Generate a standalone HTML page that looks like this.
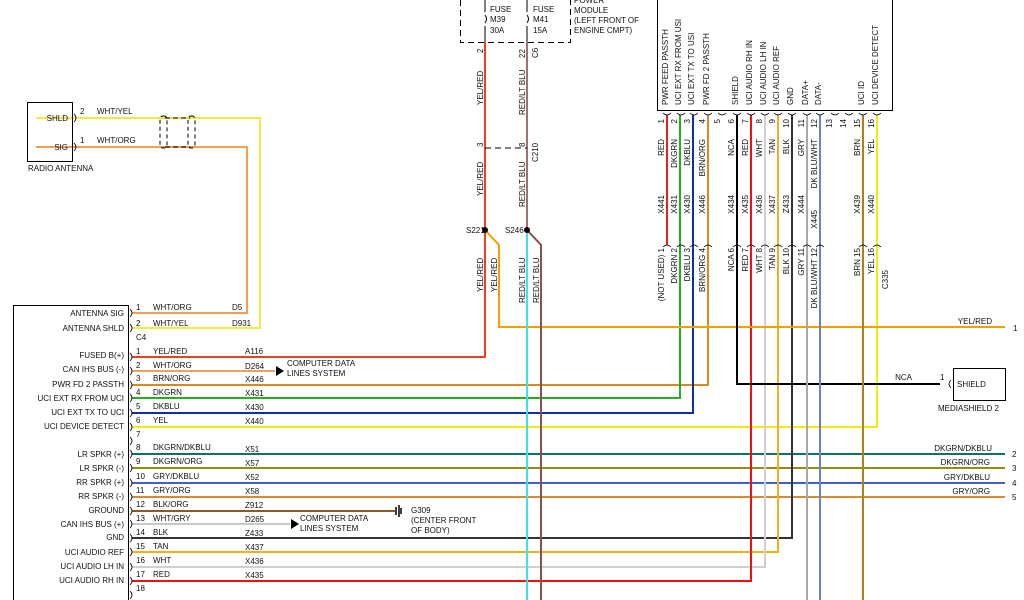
<!DOCTYPE html>
<html><head><meta charset="utf-8"><style>
html,body{margin:0;padding:0;background:#fff;}
svg{display:block;font-family:"Liberation Sans",Arial,sans-serif;font-size:8px;fill:#000;}
text{fill:#111;}
.r{text-anchor:end;}
</style></head><body>
<svg width="1024" height="600" viewBox="0 0 1024 600" xmlns="http://www.w3.org/2000/svg">
<g fill="none" stroke-width="2">
<!-- antenna wires -->
<polyline points="36,118 260,118 260,328 132,328" stroke="#f2ea40"/>
<polyline points="36,147 247,147 247,313 132,313" stroke="#f0a050"/>
<!-- C4 rows -->
<polyline points="132,357 485,357 485,42" stroke="#ee4020"/>
<line x1="132" y1="371" x2="275" y2="371" stroke="#f0a060"/>
<polyline points="132,385 708,385 708,115" stroke="#d88a20"/>
<polyline points="132,398 680,398 680,115" stroke="#20b020"/>
<polyline points="132,413 693,413 693,115" stroke="#1030a0"/>
<polyline points="132,427 877,427 877,115" stroke="#f5ea10"/>
<line x1="132" y1="454" x2="1005" y2="454" stroke="#107060"/>
<line x1="132" y1="468" x2="1005" y2="468" stroke="#909010"/>
<line x1="132" y1="483" x2="1005" y2="483" stroke="#4060c8"/>
<line x1="132" y1="497" x2="1005" y2="497" stroke="#d88a30"/>
<line x1="132" y1="511" x2="395" y2="511" stroke="#8a5a28"/>
<line x1="132" y1="524" x2="290" y2="524" stroke="#c8c8c8"/>
<polyline points="132,538 792,538 792,115" stroke="#333"/>
<polyline points="132,552 778,552 778,115" stroke="#f0b020"/>
<polyline points="132,567 765,567 765,115" stroke="#d0d0d0"/>
<polyline points="132,581 751,581 751,115" stroke="#f01010"/>
<!-- YEL/RED branch -->
<polyline points="485,230 499,245 499,327 1005,327" stroke="#f0a000"/>
<!-- RED/LT BLU -->
<line x1="527" y1="42" x2="527" y2="230" stroke="#a07070"/>
<line x1="527" y1="230" x2="527" y2="600" stroke="#40e0f0"/>
<polyline points="527,230 541,245 541,600" stroke="#8a5050"/>
<!-- module wires -->
<line x1="667" y1="115" x2="667" y2="245" stroke="#e82020"/>
<polyline points="737,115 737,384 940,384" stroke="#000"/>
<line x1="807" y1="115" x2="807" y2="600" stroke="#a8a8a8"/>
<line x1="820" y1="115" x2="820" y2="600" stroke="#7080d0"/>
<line x1="863" y1="115" x2="863" y2="600" stroke="#b08020"/>
</g>
<!-- boxes -->
<g fill="none" stroke="#000" stroke-width="1">
<rect x="27.5" y="102.5" width="45" height="59"/>
<rect x="13.5" y="305.5" width="115" height="300"/>
<rect x="657.5" y="-5" width="235" height="115.5"/>
<rect x="953.5" y="368.5" width="52" height="32"/>
<path d="M460.5,0 V42.5 H570.5 V0" stroke-dasharray="6,4"/>
<line x1="485" y1="148" x2="527" y2="148" stroke-dasharray="6,4"/>
<rect x="160" y="116" width="7" height="32" rx="3" stroke-dasharray="4,3"/>
<rect x="188" y="116" width="7" height="32" rx="3" stroke-dasharray="4,3"/>
<line x1="165" y1="118" x2="190" y2="118" stroke-dasharray="5,3"/>
<line x1="165" y1="147" x2="190" y2="147" stroke-dasharray="5,3"/>
<path d="M485,0 V12 M485,15 q3,4 0,8 M485,26 V42 M527,0 V12 M527,15 q3,4 0,8 M527,26 V42"/>
</g>
<circle cx="485" cy="230" r="3"/><circle cx="527" cy="230" r="3"/>
<path d="M276,366 l8,5 l-8,5z M291,519 l8,5 l-8,5z"/>
<path d="M396,507 v8 M399,505 v12 M401,508 v6" stroke="#000" stroke-width="1.5"/>
<!-- module pin connector ticks -->
<g fill="none" stroke="#000" stroke-width="0.8">
<path d="M663,113 q4,4 8,0 M677,113 q4,4 8,0 M690,113 q4,4 8,0 M704,113 q4,4 8,0 M718,113 q4,4 8,0 M733,113 q4,4 8,0 M747,113 q4,4 8,0 M761,113 q4,4 8,0 M774,113 q4,4 8,0 M788,113 q4,4 8,0 M803,113 q4,4 8,0 M816,113 q4,4 8,0 M831,113 q4,4 8,0 M845,113 q4,4 8,0 M859,113 q4,4 8,0 M873,113 q4,4 8,0"/>
<path d="M663,247 q4,-4 8,0 M677,247 q4,-4 8,0 M690,247 q4,-4 8,0 M704,247 q4,-4 8,0 M733,247 q4,-4 8,0 M747,247 q4,-4 8,0 M761,247 q4,-4 8,0 M774,247 q4,-4 8,0 M788,247 q4,-4 8,0 M803,247 q4,-4 8,0 M816,247 q4,-4 8,0 M859,247 q4,-4 8,0 M873,247 q4,-4 8,0"/>
<path d="M130,309 q4,4 0,8 M130,324 q4,4 0,8 M130,353 q4,4 0,8 M130,367 q4,4 0,8 M130,381 q4,4 0,8 M130,394 q4,4 0,8 M130,409 q4,4 0,8 M130,423 q4,4 0,8 M130,437 q4,4 0,8 M130,450 q4,4 0,8 M130,464 q4,4 0,8 M130,479 q4,4 0,8 M130,493 q4,4 0,8 M130,507 q4,4 0,8 M130,520 q4,4 0,8 M130,534 q4,4 0,8 M130,548 q4,4 0,8 M130,563 q4,4 0,8 M130,577 q4,4 0,8 M130,591 q4,4 0,8"/>
<path d="M74,114 q4,4 0,8 M74,143 q4,4 0,8 M951,380 q-4,4 0,8"/>
</g>
<!-- antenna texts -->
<text x="68" y="121" class="r">SHLD</text><text x="68" y="150" class="r">SIG</text>
<text x="28" y="171">RADIO ANTENNA</text>
<text x="80" y="114">2</text><text x="97" y="114">WHT/YEL</text>
<text x="80" y="143">1</text><text x="97" y="143">WHT/ORG</text>
<!-- left box labels -->
<g class="r">
<text x="124" y="316" class="r">ANTENNA SIG</text>
<text x="124" y="331" class="r">ANTENNA SHLD</text>
<text x="124" y="358" class="r">FUSED B(+)</text>
<text x="124" y="372" class="r">CAN IHS BUS (-)</text>
<text x="124" y="387" class="r">PWR FD 2 PASSTH</text>
<text x="124" y="401" class="r">UCI EXT RX FROM UCI</text>
<text x="124" y="415" class="r">UCI EXT TX TO UCI</text>
<text x="124" y="429" class="r">UCI DEVICE DETECT</text>
<text x="124" y="457" class="r">LR SPKR (+)</text>
<text x="124" y="471" class="r">LR SPKR (-)</text>
<text x="124" y="485" class="r">RR SPKR (+)</text>
<text x="124" y="499" class="r">RR SPKR (-)</text>
<text x="124" y="513" class="r">GROUND</text>
<text x="124" y="527" class="r">CAN IHS BUS (+)</text>
<text x="124" y="540" class="r">GND</text>
<text x="124" y="555" class="r">UCI AUDIO REF</text>
<text x="124" y="569" class="r">UCI AUDIO LH IN</text>
<text x="124" y="583" class="r">UCI AUDIO RH IN</text>
</g>
<!-- row labels -->
<text x="136" y="310">1</text><text x="153" y="310">WHT/ORG</text><text x="232" y="310">D5</text>
<text x="136" y="326">2</text><text x="153" y="326">WHT/YEL</text><text x="232" y="326">D931</text>
<text x="136" y="340">C4</text>
<text x="136" y="354">1</text><text x="153" y="354">YEL/RED</text><text x="245" y="354">A116</text>
<text x="136" y="368">2</text><text x="153" y="368">WHT/ORG</text><text x="245" y="369">D264</text>
<text x="287" y="366">COMPUTER DATA</text><text x="287" y="376">LINES SYSTEM</text>
<text x="136" y="381">3</text><text x="153" y="381">BRN/ORG</text><text x="245" y="382">X446</text>
<text x="136" y="395">4</text><text x="153" y="395">DKGRN</text><text x="245" y="396">X431</text>
<text x="136" y="409">5</text><text x="153" y="409">DKBLU</text><text x="245" y="410">X430</text>
<text x="136" y="423">6</text><text x="153" y="423">YEL</text><text x="245" y="424">X440</text>
<text x="136" y="437">7</text>
<text x="136" y="450">8</text><text x="153" y="450">DKGRN/DKBLU</text><text x="245" y="452">X51</text>
<text x="136" y="464">9</text><text x="153" y="464">DKGRN/ORG</text><text x="245" y="466">X57</text>
<text x="136" y="479">10</text><text x="153" y="479">GRY/DKBLU</text><text x="245" y="480">X52</text>
<text x="136" y="493">11</text><text x="153" y="493">GRY/ORG</text><text x="245" y="494">X58</text>
<text x="136" y="507">12</text><text x="153" y="507">BLK/ORG</text><text x="245" y="508">Z912</text>
<text x="136" y="521">13</text><text x="153" y="521">WHT/GRY</text><text x="245" y="522">D265</text>
<text x="300" y="521">COMPUTER DATA</text><text x="300" y="531">LINES SYSTEM</text>
<text x="136" y="535">14</text><text x="153" y="535">BLK</text><text x="245" y="536">Z433</text>
<text x="136" y="549">15</text><text x="153" y="549">TAN</text><text x="245" y="550">X437</text>
<text x="136" y="563">16</text><text x="153" y="563">WHT</text><text x="245" y="564">X436</text>
<text x="136" y="577">17</text><text x="153" y="577">RED</text><text x="245" y="578">X435</text>
<text x="136" y="591">18</text>
<text x="411" y="513">G309</text><text x="411" y="523">(CENTER FRONT</text><text x="411" y="533">OF BODY)</text>
<!-- fuse box -->
<text x="490" y="12">FUSE</text><text x="490" y="22">M39</text><text x="490" y="33">30A</text>
<text x="533" y="12">FUSE</text><text x="533" y="22">M41</text><text x="533" y="33">15A</text>
<text x="574" y="3">POWER</text><text x="574" y="13">MODULE</text><text x="574" y="23">(LEFT FRONT OF</text><text x="574" y="33">ENGINE CMPT)</text>
<text x="466" y="233">S221</text><text x="505" y="233">S246</text>
<!-- rotated vertical wire labels -->
<g>
<text transform="translate(483,53) rotate(-90)">2</text>
<text transform="translate(483,105) rotate(-90)">YEL/RED</text>
<text transform="translate(525,58) rotate(-90)">22</text>
<text transform="translate(538,58) rotate(-90)">C6</text>
<text transform="translate(525,115) rotate(-90)">RED/LT BLU</text>
<text transform="translate(483,147) rotate(-90)">3</text>
<text transform="translate(525,147) rotate(-90)">8</text>
<text transform="translate(538,162) rotate(-90)">C210</text>
<text transform="translate(483,196) rotate(-90)">YEL/RED</text>
<text transform="translate(525,207) rotate(-90)">RED/LT BLU</text>
<text transform="translate(483,292) rotate(-90)">YEL/RED</text>
<text transform="translate(497,292) rotate(-90)">YEL/RED</text>
<text transform="translate(525,303) rotate(-90)">RED/LT BLU</text>
<text transform="translate(539,303) rotate(-90)">RED/LT BLU</text>
</g>
<!-- module labels -->
<g>
<text transform="translate(668,105) rotate(-90)">PWR FEED PASSTH</text>
<text transform="translate(681,105) rotate(-90)">UCI EXT RX FROM USI</text>
<text transform="translate(694,105) rotate(-90)">UCI EXT TX TO USI</text>
<text transform="translate(709,105) rotate(-90)">PWR FD 2 PASSTH</text>
<text transform="translate(738,105) rotate(-90)">SHIELD</text>
<text transform="translate(752,105) rotate(-90)">UCI AUDIO RH IN</text>
<text transform="translate(766,105) rotate(-90)">UCI AUDIO LH IN</text>
<text transform="translate(779,105) rotate(-90)">UCI AUDIO REF</text>
<text transform="translate(793,105) rotate(-90)">GND</text>
<text transform="translate(808,105) rotate(-90)">DATA+</text>
<text transform="translate(821,105) rotate(-90)">DATA-</text>
<text transform="translate(864,105) rotate(-90)">UCI ID</text>
<text transform="translate(878,105) rotate(-90)">UCI DEVICE DETECT</text>
</g>
<g class="r">
<text class="r" transform="translate(664,119) rotate(-90)">1</text><text class="r" transform="translate(664,139) rotate(-90)">RED</text><text class="r" transform="translate(664,195) rotate(-90)">X441</text>
<text class="r" transform="translate(677,119) rotate(-90)">2</text><text class="r" transform="translate(677,139) rotate(-90)">DKGRN</text><text class="r" transform="translate(677,195) rotate(-90)">X431</text>
<text class="r" transform="translate(690,119) rotate(-90)">3</text><text class="r" transform="translate(690,139) rotate(-90)">DKBLU</text><text class="r" transform="translate(690,195) rotate(-90)">X430</text>
<text class="r" transform="translate(705,119) rotate(-90)">4</text><text class="r" transform="translate(705,139) rotate(-90)">BRN/ORG</text><text class="r" transform="translate(705,195) rotate(-90)">X446</text>
<text class="r" transform="translate(720,119) rotate(-90)">5</text>
<text class="r" transform="translate(734,119) rotate(-90)">6</text><text class="r" transform="translate(734,139) rotate(-90)">NCA</text><text class="r" transform="translate(734,195) rotate(-90)">X434</text>
<text class="r" transform="translate(748,119) rotate(-90)">7</text><text class="r" transform="translate(748,139) rotate(-90)">RED</text><text class="r" transform="translate(748,195) rotate(-90)">X435</text>
<text class="r" transform="translate(762,119) rotate(-90)">8</text><text class="r" transform="translate(762,139) rotate(-90)">WHT</text><text class="r" transform="translate(762,195) rotate(-90)">X436</text>
<text class="r" transform="translate(775,119) rotate(-90)">9</text><text class="r" transform="translate(775,139) rotate(-90)">TAN</text><text class="r" transform="translate(775,195) rotate(-90)">X437</text>
<text class="r" transform="translate(789,119) rotate(-90)">10</text><text class="r" transform="translate(789,139) rotate(-90)">BLK</text><text class="r" transform="translate(789,195) rotate(-90)">Z433</text>
<text class="r" transform="translate(804,119) rotate(-90)">11</text><text class="r" transform="translate(804,139) rotate(-90)">GRY</text><text class="r" transform="translate(804,195) rotate(-90)">X444</text>
<text class="r" transform="translate(817,119) rotate(-90)">12</text><text class="r" transform="translate(817,139) rotate(-90)">DK BLU/WHT</text><text class="r" transform="translate(817,210) rotate(-90)">X445</text>
<text class="r" transform="translate(832,119) rotate(-90)">13</text>
<text class="r" transform="translate(846,119) rotate(-90)">14</text>
<text class="r" transform="translate(860,119) rotate(-90)">15</text><text class="r" transform="translate(860,139) rotate(-90)">BRN</text><text class="r" transform="translate(860,195) rotate(-90)">X439</text>
<text class="r" transform="translate(874,119) rotate(-90)">16</text><text class="r" transform="translate(874,139) rotate(-90)">YEL</text><text class="r" transform="translate(874,195) rotate(-90)">X440</text>
<!-- lower connector -->
<text class="r" transform="translate(664,248) rotate(-90)">(NOT USED)  1</text>
<text class="r" transform="translate(677,248) rotate(-90)">DKGRN  2</text>
<text class="r" transform="translate(690,248) rotate(-90)">DKBLU  3</text>
<text class="r" transform="translate(705,248) rotate(-90)">BRN/ORG  4</text>
<text class="r" transform="translate(734,248) rotate(-90)">NCA  6</text>
<text class="r" transform="translate(748,248) rotate(-90)">RED  7</text>
<text class="r" transform="translate(762,248) rotate(-90)">WHT  8</text>
<text class="r" transform="translate(775,248) rotate(-90)">TAN  9</text>
<text class="r" transform="translate(789,248) rotate(-90)">BLK  10</text>
<text class="r" transform="translate(804,248) rotate(-90)">GRY  11</text>
<text class="r" transform="translate(817,248) rotate(-90)">DK BLU/WHT  12</text>
<text class="r" transform="translate(860,248) rotate(-90)">BRN  15</text>
<text class="r" transform="translate(874,248) rotate(-90)">YEL  16</text>
<text class="r" transform="translate(888,270) rotate(-90)">C335</text>
</g>
<!-- right side labels -->
<text x="992" y="324" class="r">YEL/RED</text><text x="1013" y="331">1</text>
<text x="912" y="380" class="r">NCA</text><text x="940" y="380">1</text>
<text x="957" y="387">SHIELD</text><text x="938" y="411">MEDIASHIELD 2</text>
<text x="992" y="451" class="r">DKGRN/DKBLU</text><text x="1012" y="457">2</text>
<text x="990" y="465" class="r">DKGRN/ORG</text><text x="1012" y="471">3</text>
<text x="990" y="480" class="r">GRY/DKBLU</text><text x="1012" y="486">4</text>
<text x="990" y="494" class="r">GRY/ORG</text><text x="1012" y="500">5</text>
</svg>
</body></html>
